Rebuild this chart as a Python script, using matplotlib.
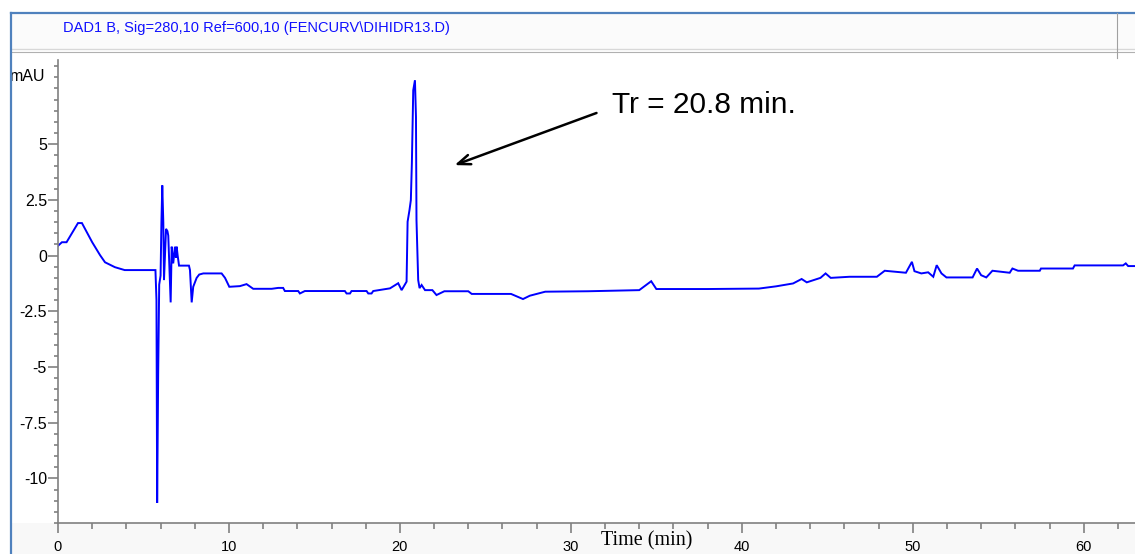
import matplotlib
matplotlib.use("Agg")
import matplotlib.pyplot as plt
from matplotlib.lines import Line2D
from matplotlib.patches import Rectangle
from matplotlib.ticker import MultipleLocator, FixedLocator

# DAD1 B trace, 280 nm
time_min = [
    0.0, 0.23, 0.5, 1.17, 1.4, 2.0, 2.46, 2.75, 3.33, 3.9,
    5.7, 5.76, 5.8, 5.86, 5.92, 6.0, 6.05, 6.1, 6.16, 6.2,
    6.32, 6.4, 6.45, 6.59, 6.65, 6.74, 6.84, 6.9, 6.94, 7.0,
    7.08, 7.66, 7.72, 7.82, 7.91, 8.11, 8.26, 8.5, 9.57, 9.77,
    10.02, 10.64, 11.03, 11.42, 12.5, 12.88, 13.17, 13.27, 14.05, 14.15,
    14.44, 16.78, 16.88, 17.08, 17.17, 18.05, 18.15, 18.34, 18.44, 19.42,
    19.9, 20.1, 20.39, 20.45, 20.56, 20.64, 20.7, 20.78, 20.88, 20.94,
    20.97, 21.07, 21.15, 21.27, 21.47, 21.9, 22.14, 22.6, 24.0, 24.2,
    26.5, 27.2, 27.6, 28.5, 31.0, 34.0, 34.7, 35.0, 38.0, 41.0,
    42.0, 43.0, 43.5, 43.8, 44.6, 44.9, 45.2, 46.3, 47.9, 48.36,
    49.6, 49.95, 50.1, 50.5, 50.9, 51.2, 51.4, 51.68, 51.97, 53.5,
    53.76, 54.0, 54.3, 54.66, 55.67, 55.83, 56.16, 57.43, 57.5, 59.37,
    59.47, 62.3, 62.46, 62.6, 63.0,
]
signal_mau = [
    0.44, 0.6, 0.6, 1.46, 1.46, 0.6, 0.02, -0.3, -0.52, -0.65,
    -0.65, -2.0, -11.1, -5.3, -1.3, -0.9, 1.5, 3.15, 1.5, -1.1,
    1.2, 1.1, 0.9, -2.1, 0.4, -0.35, 0.4, -0.1, 0.4, 0.0,
    -0.45, -0.45, -0.65, -2.1, -1.4, -1.0, -0.85, -0.8, -0.8, -1.0,
    -1.4, -1.37, -1.28, -1.49, -1.49, -1.45, -1.45, -1.59, -1.59, -1.7,
    -1.59, -1.59, -1.7, -1.7, -1.59, -1.59, -1.7, -1.7, -1.59, -1.47,
    -1.24, -1.55, -1.17, 1.52, 2.04, 2.49, 4.15, 7.42, 7.87, 6.22,
    1.59, -1.1, -1.46, -1.32, -1.55, -1.55, -1.77, -1.6, -1.6, -1.72,
    -1.72, -1.95, -1.8, -1.62, -1.6, -1.55, -1.15, -1.5, -1.5, -1.48,
    -1.38, -1.25, -1.05, -1.2, -1.0, -0.8, -1.0, -0.95, -0.95, -0.68,
    -0.77, -0.28, -0.7, -0.8, -0.75, -0.95, -0.43, -0.8, -0.98, -0.98,
    -0.58, -0.88, -0.98, -0.68, -0.77, -0.58, -0.68, -0.68, -0.58, -0.58,
    -0.44, -0.44, -0.35, -0.47, -0.47,
]

y_major = [-10, -7.5, -5, -2.5, 0, 2.5, 5]
y_labels = ["-10", "-7.5", "-5", "-2.5", "0", "2.5", "5"]
x_major = [0, 10, 20, 30, 40, 50, 60]

header = r"DAD1 B, Sig=280,10 Ref=600,10 (FENCURV\DIHIDR13.D)"
peak_note = "Tr = 20.8 min."

sans = ["Liberation Sans", "DejaVu Sans"]

W, H = 1135, 554
fig = plt.figure(figsize=(W / 100, H / 100), dpi=100, facecolor="white")


def fx(x):
    return x / W


def fy(y):
    return 1 - y / H


# window frame around the trace
fig.add_artist(Rectangle((fx(11), fy(50)), fx(W - 11), 37 / H,
                         facecolor="#fbfbfb", edgecolor="none", zorder=0))
fig.add_artist(Rectangle((fx(11), 0), fx(W - 11), fy(523),
                         facecolor="#f8f8f8", edgecolor="none", zorder=0))
fig.add_artist(Line2D([fx(11), fx(W)], [fy(49), fy(49)], color="#d8d8d8", lw=1.0))
fig.add_artist(Line2D([fx(11), fx(W)], [fy(52), fy(52)], color="#b0b0b0", lw=0.8))
fig.add_artist(Line2D([fx(10.5), fx(W)], [fy(12.5), fy(12.5)], color="#4f81bd", lw=1.6))
fig.add_artist(Line2D([fx(10.5), fx(10.5)], [fy(12.5), 0], color="#4f81bd", lw=1.6))
fig.add_artist(Line2D([fx(1117), fx(1117)], [fy(13), fy(58)], color="#a0a0a0", lw=0.8))

fig.text(fx(63), fy(28), header, color="#1010ff", fontsize=10.5,
         family=sans, ha="left", va="center")

ax = fig.add_axes([fx(58), fy(523), fx(W - 58), 463.5 / H])
ax.plot(time_min, signal_mau, color="#0000ff", lw=1.4, solid_joinstyle="miter")

ax.set_xlim(0, 63.0)
ax.set_ylim(-12.0, 8.8)

for side in ("top", "right"):
    ax.spines[side].set_visible(False)
for side in ("left", "bottom"):
    ax.spines[side].set_color("#808080")
    ax.spines[side].set_linewidth(1.2)

ax.yaxis.set_major_locator(FixedLocator(y_major))
ax.set_yticklabels(y_labels)
ax.yaxis.set_minor_locator(MultipleLocator(0.5))
ax.xaxis.set_major_locator(FixedLocator(x_major))
ax.xaxis.set_minor_locator(MultipleLocator(2))

ax.tick_params(axis="y", which="major", direction="out", length=7, width=1.2,
               color="#808080", pad=1, labelsize=11.5)
ax.tick_params(axis="y", which="minor", direction="out", length=3, width=1.2,
               color="#808080")
ax.tick_params(axis="x", which="major", direction="out", length=7, width=1.2,
               color="#808080", pad=5, labelsize=10.5)
ax.tick_params(axis="x", which="minor", direction="out", length=4, width=1.2,
               color="#808080")
for lab in ax.get_xticklabels() + ax.get_yticklabels():
    lab.set_family(sans)

ax.text(-0.012, 8.05, "mAU", transform=ax.get_yaxis_transform(),
        ha="right", va="center", fontsize=11.5, family=sans)

fig.text(0.570, fy(541), "Time (min)", fontsize=14.5,
         family=["Liberation Serif", "DejaVu Serif"], ha="center", va="center")

ax.annotate("", xy=(23.2, 4.06), xytext=(31.5, 6.4),
            arrowprops=dict(arrowstyle="->,head_length=0.9,head_width=0.35",
                            color="black", lw=1.8, shrinkA=0, shrinkB=0))
ax.text(32.4, 6.75, peak_note, fontsize=21.5, family=sans,
        ha="left", va="center")

fig.savefig("out.png", dpi=100, facecolor="white")
